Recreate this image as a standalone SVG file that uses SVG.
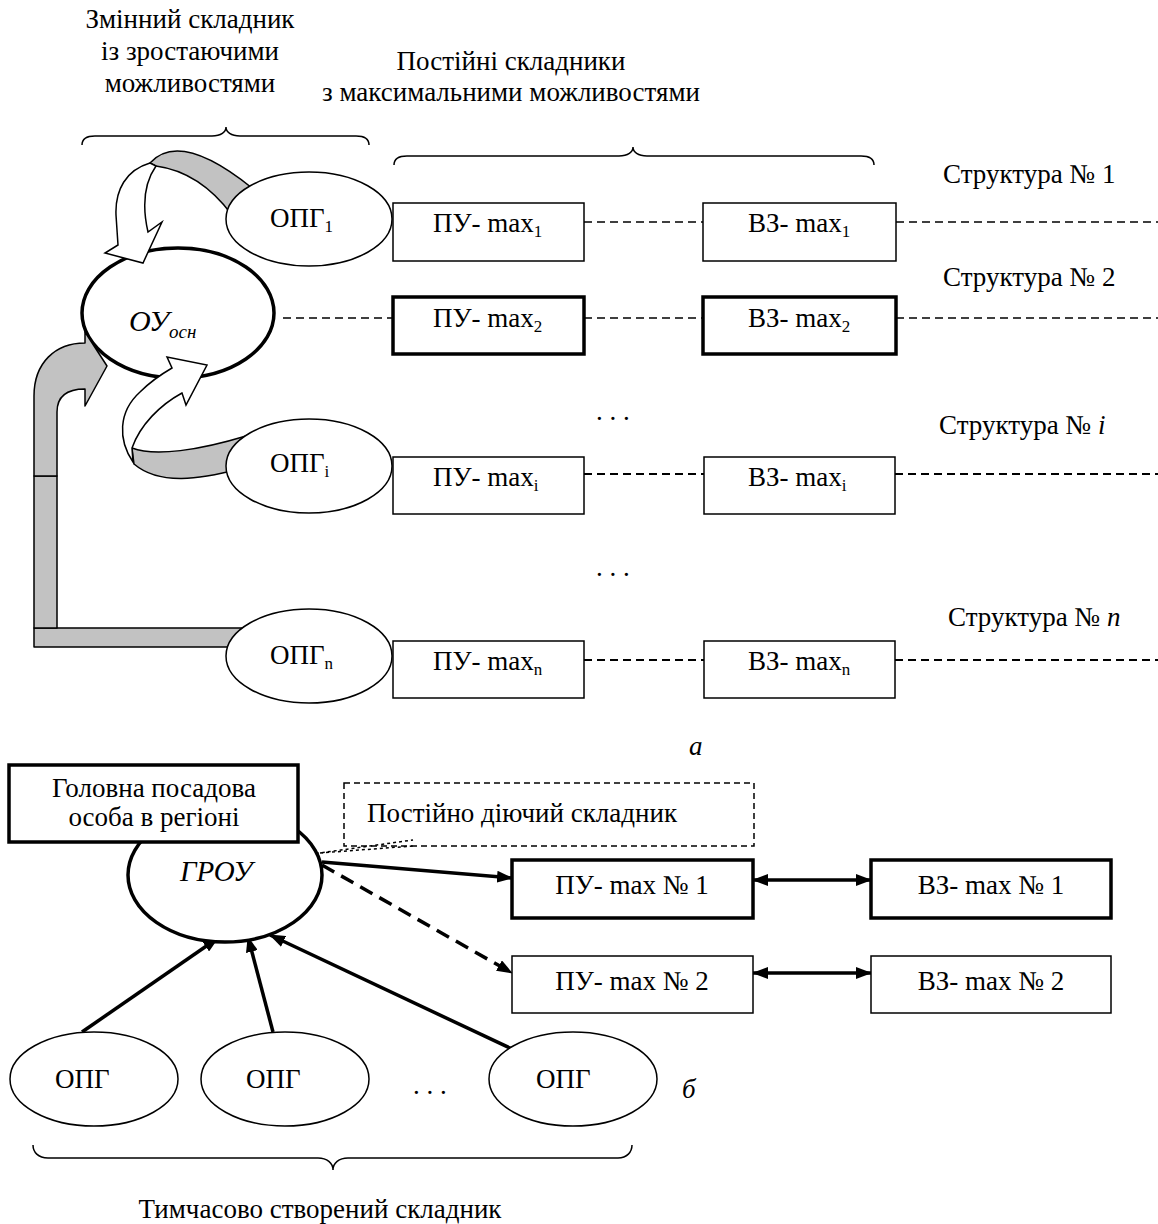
<svg xmlns="http://www.w3.org/2000/svg" width="1158" height="1224" viewBox="0 0 1158 1224">
<style>
.t{font-family:'Liberation Serif','Times New Roman',serif;font-size:27px;fill:#000}
.s{font-size:17px}
.it{font-style:italic}
.thin{fill:#fff;stroke:#000;stroke-width:1.5}
.thick{fill:#fff;stroke:#000;stroke-width:3.5}
.dash{fill:none;stroke:#000;stroke-width:1.5;stroke-dasharray:8 5}
.dash2{fill:none;stroke:#000;stroke-width:2;stroke-dasharray:8 5}
.brace{fill:none;stroke:#000;stroke-width:1.5}
.gray{fill:#c2c2c2;stroke:#000;stroke-width:1.5;stroke-linejoin:round}
.wa{fill:#fff;stroke:#000;stroke-width:1.5;stroke-linejoin:miter}
.arr{fill:none;stroke:#000;stroke-width:3.5}
.dot{fill:none;stroke:#000;stroke-width:1.5;stroke-dasharray:3 3}
</style>
<defs>
<marker id="ah" viewBox="0 0 16 12" refX="15" refY="6" markerWidth="16" markerHeight="12" markerUnits="userSpaceOnUse" orient="auto-start-reverse"><path d="M0,0 L16,6 L0,12 z" fill="#000"/></marker>
</defs>

<g id="heading-variable">
<text class="t" x="190" y="28" text-anchor="middle">Змінний складник</text>
<text class="t" x="190" y="60" text-anchor="middle">із зростаючими</text>
<text class="t" x="190" y="92" text-anchor="middle">можливостями</text>
<path class="brace" d="M82,145 C82,139 86,136 95,136 L212,136 C221,136 226,132 226,127 C226,132 231,136 240,136 L356,136 C365,136 369,139 369,145"/>
</g>
<g id="heading-constant">
<text class="t" x="511" y="70" text-anchor="middle">Постійні складники</text>
<text class="t" x="511" y="101" text-anchor="middle">з максимальними можливостями</text>
<path class="brace" d="M394,165 C394,159 398,156 407,156 L619,156 C628,156 633,152 633,147 C633,152 638,156 647,156 L861,156 C870,156 874,159 874,165"/>
</g>

<g id="node-oy">
<ellipse cx="178" cy="313" rx="96" ry="65" fill="#fff" stroke="#000" stroke-width="3.5"/>
<text class="t it" x="129" y="331" style="font-size:30px">ОУ<tspan style="font-size:19px" dy="7">осн</tspan></text>
</g>

<g id="connectors">
<path class="gray" d="M150,163 Q180,130 252,188 L232,215 Q200,172 156,166 Z"/>
<path class="wa" d="M150,163 C126,170 115,190 116,215 L118,245 L105,253 L143,263 L162,222 L148,232 C143,210 142,186 156,166 Z"/>
<path class="gray" d="M132,448 C155,457 200,450 246,436 L240,469 C200,479 160,486 134,464 Z"/>
<path class="wa" d="M133,462 C118,440 118,412 140,392 C150,382 160,375 172,368 L167,357 L207,365 L186,405 L182,393 C160,405 140,425 132,448 Z"/>
<rect class="gray" x="34" y="628" width="212" height="19"/>
<rect class="gray" x="34" y="476" width="23" height="152"/>
<path class="gray" d="M34,476 L34,396 C34,363 55,343 85,343 L85,332 L107,366 L85,406 L85,389 C68,389 57,396 57,412 L57,476 Z"/>

<line class="dash" x1="584" y1="222" x2="703" y2="222"/>
<line class="dash" x1="896" y1="222" x2="1158" y2="222"/>
<line class="dash" x1="283" y1="318" x2="393" y2="318"/>
<line class="dash" x1="584" y1="318" x2="703" y2="318"/>
<line class="dash" x1="896" y1="318" x2="1158" y2="318"/>
<line class="dash2" x1="584" y1="474" x2="704" y2="474"/>
<line class="dash2" x1="895" y1="474" x2="1158" y2="474"/>
<line class="dash2" x1="584" y1="660" x2="704" y2="660"/>
<line class="dash2" x1="895" y1="660" x2="1158" y2="660"/>

<line class="dot" x1="298" y1="856" x2="413" y2="840"/>
<line class="dot" x1="320" y1="853" x2="413" y2="846"/>
<line class="arr" x1="322" y1="862" x2="512" y2="878" marker-end="url(#ah)"/>
<line class="arr" x1="322" y1="865" x2="512" y2="973" style="stroke-dasharray:14 8" marker-end="url(#ah)"/>
<line class="arr" x1="753" y1="880" x2="871" y2="880" marker-start="url(#ah)" marker-end="url(#ah)"/>
<line class="arr" x1="753" y1="973" x2="871" y2="973" marker-start="url(#ah)" marker-end="url(#ah)"/>
<line class="arr" x1="82" y1="1032" x2="218" y2="938" marker-end="url(#ah)"/>
<line class="arr" x1="273" y1="1032" x2="248" y2="937" marker-end="url(#ah)"/>
<line class="arr" x1="512" y1="1049" x2="270" y2="935" marker-end="url(#ah)"/>
</g>

<g id="node-opg1">
<ellipse class="thin" cx="309" cy="219" rx="83" ry="47"/>
<text class="t" x="270" y="227">ОПГ<tspan class="s" dy="5">1</tspan></text>
</g>
<g id="node-pu1"><rect class="thin" x="393" y="203" width="191" height="58"/><text class="t" x="433" y="232">ПУ- max<tspan class="s" dy="5">1</tspan></text></g>
<g id="node-vz1"><rect class="thin" x="703" y="203" width="193" height="58"/><text class="t" x="748" y="232">ВЗ- max<tspan class="s" dy="5">1</tspan></text></g>
<g id="node-pu2"><rect class="thick" x="393" y="297" width="191" height="57"/><text class="t" x="433" y="327">ПУ- max<tspan class="s" dy="5">2</tspan></text></g>
<g id="node-vz2"><rect class="thick" x="703" y="297" width="193" height="57"/><text class="t" x="748" y="327">ВЗ- max<tspan class="s" dy="5">2</tspan></text></g>

<g id="node-opgi">
<ellipse class="thin" cx="309" cy="466" rx="83" ry="47"/>
<text class="t" x="270" y="472">ОПГ<tspan class="s" dy="5">i</tspan></text>
</g>
<g id="node-pui"><rect class="thin" x="393" y="457" width="191" height="57"/><text class="t" x="433" y="486">ПУ- max<tspan class="s" dy="5">i</tspan></text></g>
<g id="node-vzi"><rect class="thin" x="704" y="457" width="191" height="57"/><text class="t" x="748" y="486">ВЗ- max<tspan class="s" dy="5">i</tspan></text></g>

<g id="node-opgn">
<ellipse class="thin" cx="309" cy="656" rx="83" ry="47"/>
<text class="t" x="270" y="664">ОПГ<tspan class="s" dy="5">n</tspan></text>
</g>
<g id="node-pun"><rect class="thin" x="393" y="641" width="191" height="57"/><text class="t" x="433" y="670">ПУ- max<tspan class="s" dy="5">n</tspan></text></g>
<g id="node-vzn"><rect class="thin" x="704" y="641" width="191" height="57"/><text class="t" x="748" y="670">ВЗ- max<tspan class="s" dy="5">n</tspan></text></g>

<g id="labels-a">
<text class="t" x="943" y="183">Структура № 1</text>
<text class="t" x="943" y="286">Структура № 2</text>
<text class="t" x="939" y="434">Структура № <tspan class="it">i</tspan></text>
<text class="t" x="948" y="626">Структура № <tspan class="it">n</tspan></text>
<text class="t" x="596" y="420">. . .</text>
<text class="t" x="596" y="576">. . .</text>
<text class="t it" x="689" y="755">а</text>
</g>

<g id="node-grou">
<ellipse cx="225" cy="875" rx="97" ry="67" fill="#fff" stroke="#000" stroke-width="3.5"/>
<text class="t it" x="180" y="881" style="font-size:29px">ГРОУ</text>
</g>
<g id="node-head">
<rect class="thick" x="9" y="765" width="289" height="77"/>
<text class="t" x="154" y="797" text-anchor="middle">Головна посадова</text>
<text class="t" x="154" y="826" text-anchor="middle">особа в регіоні</text>
</g>
<g id="node-permanent">
<rect x="344" y="783" width="410" height="63" fill="none" stroke="#000" stroke-width="1.5" stroke-dasharray="6 4"/>
<text class="t" x="367" y="822">Постійно діючий складник</text>
</g>
<g id="node-pu-n1"><rect class="thick" x="512" y="860" width="241" height="58"/><text class="t" x="632" y="894" text-anchor="middle">ПУ- max № 1</text></g>
<g id="node-vz-n1"><rect class="thick" x="871" y="860" width="240" height="58"/><text class="t" x="991" y="894" text-anchor="middle">ВЗ- max № 1</text></g>
<g id="node-pu-n2"><rect class="thin" x="512" y="956" width="241" height="57"/><text class="t" x="632" y="990" text-anchor="middle">ПУ- max № 2</text></g>
<g id="node-vz-n2"><rect class="thin" x="871" y="956" width="240" height="57"/><text class="t" x="991" y="990" text-anchor="middle">ВЗ- max № 2</text></g>

<g id="node-opg-b1"><ellipse class="thin" cx="94" cy="1079" rx="84" ry="47"/><text class="t" x="55" y="1088">ОПГ</text></g>
<g id="node-opg-b2"><ellipse class="thin" cx="285" cy="1079" rx="84" ry="47"/><text class="t" x="246" y="1088">ОПГ</text></g>
<g id="node-opg-b3"><ellipse class="thin" cx="573" cy="1079" rx="84" ry="47"/><text class="t" x="536" y="1088">ОПГ</text></g>

<g id="labels-b">
<text class="t" x="413" y="1094">. . .</text>
<text class="t it" x="682" y="1098">б</text>
<path class="brace" d="M33,1145 C33,1152 38,1158 48,1158 L318,1158 C327,1158 333,1163 333,1170 C333,1163 339,1158 348,1158 L618,1158 C627,1158 632,1152 632,1145"/>
<text class="t" x="320" y="1218" text-anchor="middle">Тимчасово створений складник</text>
</g>
</svg>
